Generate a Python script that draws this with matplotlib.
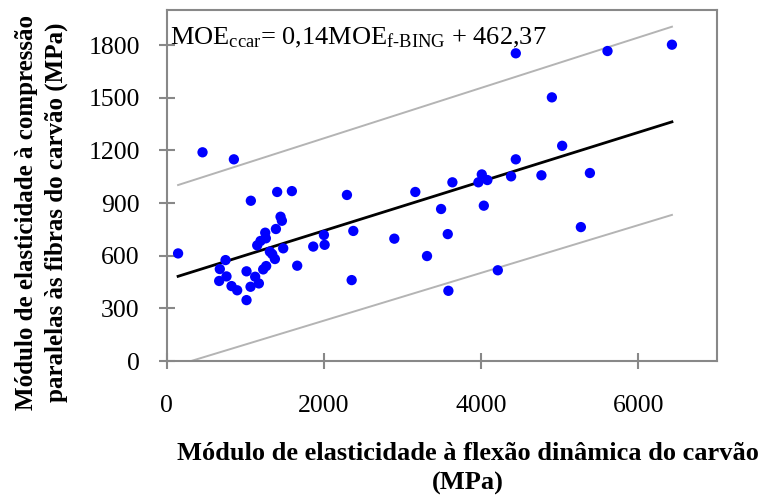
import matplotlib
matplotlib.use("Agg")
import matplotlib.pyplot as plt
import numpy as np

plt.rcParams['font.family'] = ['Liberation Serif', 'DejaVu Serif']
plt.rcParams['mathtext.fontset'] = 'custom'
plt.rcParams['mathtext.rm'] = 'Liberation Serif'
plt.rcParams['mathtext.it'] = 'Liberation Serif:italic'
plt.rcParams['mathtext.bf'] = 'Liberation Serif:bold'

# MOE flexão dinâmica (MPa)
moe_f = [144, 455, 854, 1070, 1405, 1592, 1448, 1465, 1389, 1253,
         1261, 1193, 1151, 1312, 1342, 1376, 1482, 748, 675, 760,
         667, 824, 896, 1015, 1015, 1125, 1066, 1172, 1227, 1265,
         1660, 1864, 2000, 2009, 2293, 2374, 2353, 2896, 3163, 3491,
         3576, 3312, 3584, 3635, 3966, 4009, 4080, 4035, 4382, 4442,
         4442, 4768, 4901, 5032, 5385, 5270, 4213, 5609, 6429]
# MOE compressão paralela (MPa)
moe_c = [613, 1189, 1149, 913, 963, 968, 822, 799, 752, 731,
         699, 684, 659, 623, 609, 581, 642, 575, 524, 482,
         456, 427, 403, 511, 347, 480, 423, 442, 522, 541,
         543, 652, 718, 662, 946, 741, 461, 697, 963, 866,
         723, 598, 400, 1018, 1018, 1063, 1031, 885, 1052, 1149,
         1753, 1058, 1502, 1226, 1071, 763, 517, 1766, 1802]

slope = 0.14
intercept = 462.37
band_hi = [520, 542]   # upper prediction limit offset at the x-range ends (MPa)
band_lo = [505, 530]   # lower prediction limit offset at the x-range ends (MPa)

x_ticks = [0, 2000, 4000, 6000]
y_ticks = [0, 300, 600, 900, 1200, 1500, 1800]

fig = plt.figure(figsize=(7.65, 4.97), dpi=100)
ax = fig.add_axes([0.218, 0.2736, 0.719, 0.7064])

xs = np.array([min(moe_f), max(moe_f)])
fit = slope * xs + intercept
ax.plot(xs, fit + np.array(band_hi), color='#b4b4b4', lw=1.4, zorder=2)
ax.plot(xs, fit - np.array(band_lo), color='#b4b4b4', lw=1.4, zorder=2)
ax.plot(xs, fit, color='black', lw=2.0, zorder=3)
ax.scatter(moe_f, moe_c, s=55, color='#0000ff', edgecolors='none', zorder=4)

ax.set_xlim(0, 7000)
ax.set_ylim(0, 2000)
ax.set_xticks(x_ticks)
ax.set_yticks(y_ticks)
for s in ax.spines.values():
    s.set_color('#888888')
    s.set_linewidth(1.5)
ax.tick_params(direction='inout', length=11, width=1.5, color='#888888',
               labelsize=18.5)
ax.tick_params(axis='x', pad=19)
ax.tick_params(axis='y', pad=14)

ax.text(0.005, 0.955,
        r'MOE$_{\mathrm{ccar}}$= 0,14MOE$_{\mathrm{f\text{-}BING}}$ + 462,37',
        transform=ax.transAxes, fontsize=19, va='top', ha='left')

fig.text(0.612, 0.057, 'Módulo de elasticidade à flexão dinâmica do carvão\n(MPa)',
         ha='center', va='center', fontsize=19, fontweight='bold', linespacing=1.38)
fig.text(0.054, 0.573, 'Módulo de elasticidade à compressão\nparalelas às fibras do carvão (MPa)',
         ha='center', va='center', rotation=90, fontsize=18, fontweight='bold',
         linespacing=1.35)

fig.savefig('out.png', dpi=100)
